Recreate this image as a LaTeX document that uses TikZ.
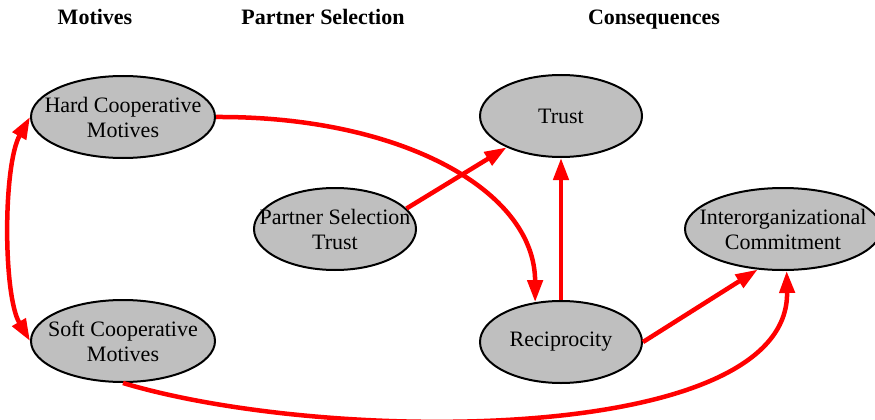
\documentclass[tikz,border=0pt]{standalone}
\usepackage{fontspec}
\setmainfont{Liberation Serif}
\usetikzlibrary{shapes.geometric,arrows.meta}
\begin{document}
\begin{tikzpicture}[x=1pt,y=-1pt]
	\tikzset{factor/.style = {shape=ellipse,draw,line width=2pt,fill=lightgray,minimum height=82pt,inner xsep=-20pt,inner ysep=0pt,align=center,font=\fontsize{22}{25}\selectfont}}
	\tikzset{head/.style = {anchor=base,font=\bfseries\fontsize{22}{25}\selectfont}}
	\tikzset{link/.style = {->,> = {Triangle[length=22pt,width=15pt]},draw=red,line width=4.5pt}}
	\useasboundingbox (0,0) rectangle (875,420);
	% column titles
	\node[head] (motives) at (95,25) {Motives};
	\node[head] (selection) at (323,25) {Partner Selection};
	\node[head] (consequences) at (654,25) {Consequences};
	% factors
	\node[factor,minimum width=184pt] (hard) at (123,117) {Hard Cooperative\\Motives};
	\node[factor,minimum width=184pt] (soft) at (123,341) {Soft Cooperative\\Motives};
	\node[factor,minimum width=162pt] (partner) at (335,229) {Partner Selection\\Trust};
	\node[factor,minimum width=162pt] (trust) at (561,116) {Trust};
	\node[factor,minimum width=162pt] (reci) at (561,342) {Reciprocity};
	\node[factor,minimum width=196pt] (inter) at (783,229) {Interorganizational\\Commitment};
	% relations
	\draw[link,<->] (hard.west) .. controls (3,165) and (3,295) .. (soft.west);
	\draw[link] (hard.east) .. controls (400,116) and (535,190) .. (reci.123);
	\draw[link] (partner.16) -- (trust.210);
	\draw[link] (reci.north) -- (trust.south);
	\draw[link] (reci.east) -- (inter.238);
	\draw[link] (soft.south) .. controls (330,445) and (790,445) .. (inter.275);
\end{tikzpicture}
\end{document}
